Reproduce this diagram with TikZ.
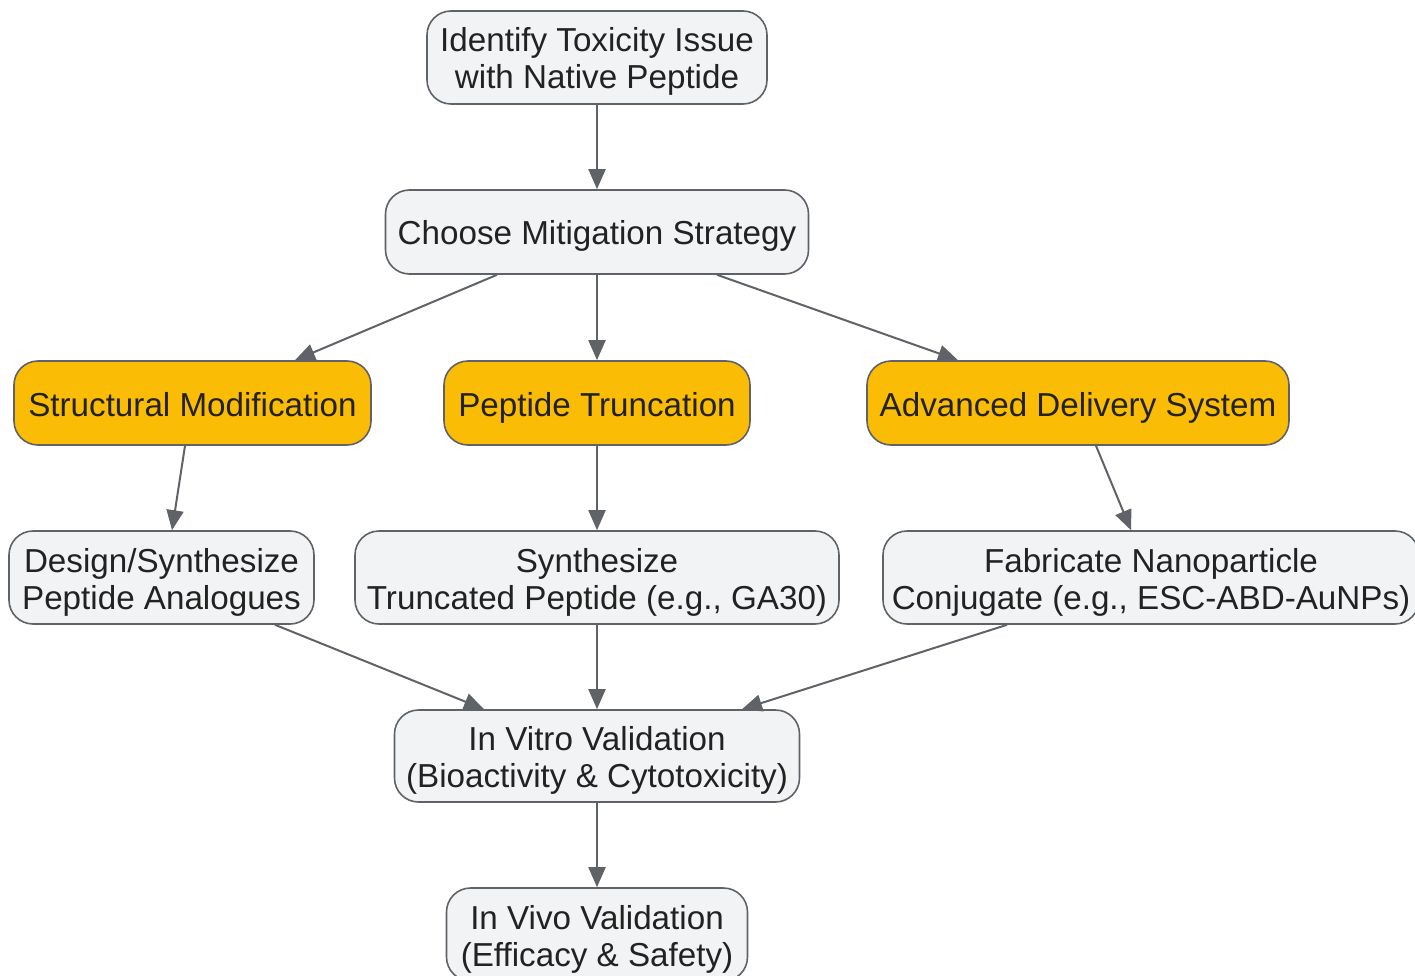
\documentclass[tikz,border=0pt]{standalone}
\usepackage{fontspec}
\setmainfont{Liberation Sans}
\usetikzlibrary{arrows.meta}
\definecolor{boxfill}{HTML}{F1F3F4}
\definecolor{boxline}{HTML}{5F6368}
\definecolor{accent}{HTML}{FABC05}
\definecolor{txt}{HTML}{222222}
\newcommand{\topstr}{\rule{0pt}{34pt}}
\newcommand{\botstr}{\rule[-8pt]{0pt}{8pt}}
\tikzset{
  box/.style={draw=boxline, line width=1.6pt, fill=boxfill, rounded corners=24pt,
    align=center, inner sep=0pt, text=txt, font=\fontsize{33.2}{37}\selectfont},
  hl/.style={box, fill=accent},
  conn/.style={draw=boxline, line width=2pt, -{Triangle[length=20pt,width=17pt]}},
}
\begin{document}
\begin{tikzpicture}[x=1pt,y=-1pt]
\useasboundingbox (0,0) rectangle (1415,976);
\node[box, minimum width=340pt, minimum height=93pt] (identify) at (597,57.5) {\topstr Identify Toxicity Issue\\with Native Peptide\botstr};
\node[box, minimum width=423pt, minimum height=84pt] (choose) at (597,232) {\topstr Choose Mitigation Strategy\botstr};
\node[hl, minimum width=357pt, minimum height=84pt] (struct) at (192.5,403) {\topstr Structural Modification\botstr};
\node[hl, minimum width=306pt, minimum height=84pt] (trunc) at (597,403) {\topstr Peptide Truncation\botstr};
\node[hl, minimum width=422pt, minimum height=84pt] (deliv) at (1078,403) {\topstr Advanced Delivery System\botstr};
\node[box, minimum width=305pt, minimum height=93pt] (design) at (161.5,577.5) {\topstr Design/Synthesize\\Peptide Analogues\botstr};
\node[box, minimum width=484pt, minimum height=93pt] (synth) at (597,577.5) {\topstr Synthesize\\Truncated Peptide (e.g., GA30)\botstr};
\node[box, minimum width=536pt, minimum height=93pt] (fab) at (1151,577.5) {\topstr Fabricate Nanoparticle\\Conjugate (e.g., ESC-ABD-AuNPs)\botstr};
\node[box, minimum width=405pt, minimum height=92pt] (vitro) at (597,756) {\topstr In Vitro Validation\\(Bioactivity \& Cytotoxicity)\botstr};
\node[box, minimum width=301pt, minimum height=93pt] (vivo) at (597,934.5) {\topstr In Vivo Validation\\(Efficacy \& Safety)\botstr};

\draw[conn] (identify.south) -- (choose.north);
\draw[conn] ([xshift=-100pt]choose.south) -- ([xshift=102.5pt]struct.north);
\draw[conn] (choose.south) -- (trunc.north);
\draw[conn] ([xshift=120pt]choose.south) -- ([xshift=-120pt]deliv.north);
\draw[conn] ([xshift=-7.5pt]struct.south) -- ([xshift=10.5pt]design.north);
\draw[conn] (trunc.south) -- (synth.north);
\draw[conn] ([xshift=18pt]deliv.south) -- ([xshift=-20pt]fab.north);
\draw[conn] ([xshift=113.5pt]design.south) -- ([xshift=-113pt]vitro.north);
\draw[conn] (synth.south) -- (vitro.north);
\draw[conn] ([xshift=-144pt]fab.south) -- ([xshift=145pt]vitro.north);
\draw[conn] (vitro.south) -- (vivo.north);
\end{tikzpicture}
\end{document}
